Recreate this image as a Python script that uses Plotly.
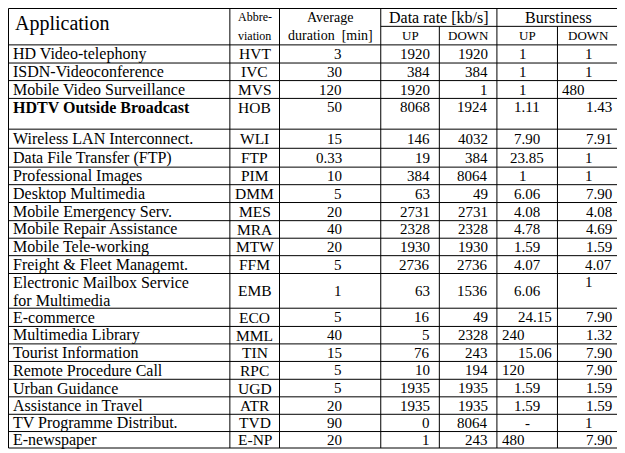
import plotly.graph_objects as go

# ---------------- data ----------------
applications = [
    "HD Video-telephony", "ISDN-Videoconference", "Mobile Video Surveillance",
    "HDTV Outside Broadcast", "Wireless LAN Interconnect.", "Data File Transfer (FTP)",
    "Professional Images", "Desktop Multimedia", "Mobile Emergency Serv.",
    "Mobile Repair Assistance", "Mobile Tele-working", "Freight & Fleet Managemt.",
    "Electronic Mailbox Service<br>for Multimedia", "E-commerce", "Multimedia Library",
    "Tourist Information", "Remote Procedure Call", "Urban Guidance",
    "Assistance in Travel", "TV Programme Distribut.", "E-newspaper",
]
abbreviations = ["HVT", "IVC", "MVS", "HOB", "WLI", "FTP", "PIM", "DMM", "MES", "MRA", "MTW",
                 "FFM", "EMB", "ECO", "MML", "TIN", "RPC", "UGD", "ATR", "TVD", "E-NP"]
durations = ["3", "30", "120", "50", "15", "0.33", "10", "5", "20", "40", "20", "5", "1", "5",
             "40", "15", "5", "5", "20", "90", "20"]
rate_up = [1920, 384, 1920, 8068, 146, 19, 384, 63, 2731, 2328, 1930, 2736, 63, 16, 5, 76, 10,
           1935, 1935, 0, 1]
rate_down = [1920, 384, 1, 1924, 4032, 384, 8064, 49, 2731, 2328, 1930, 2736, 1536, 49, 2328,
             243, 194, 1935, 1935, 8064, 243]
burst_up = ["1", "1", "1", "1.11", "7.90", "23.85", "1", "6.06", "4.08", "4.78", "1.59", "4.07",
            "6.06", "24.15", "240", "15.06", "120", "1.59", "1.59", "-", "480"]
burst_down = ["1", "1", "480", "1.43", "7.91", "1", "1", "7.90", "4.08", "4.69", "1.59", "4.07",
              "1", "7.90", "1.32", "7.90", "7.90", "1.59", "1.59", "1", "7.90"]

header_main = ["Application", "Abbre-<br>viation", "Average<br>duration  [min]"]
header_groups = ["Data rate [kb/s]", "Burstiness"]
header_sub = ["UP", "DOWN", "UP", "DOWN"]

# ---------------- layout / style ----------------
W, H = 625, 453
PAGE_MARGIN = 8                     # default body margin of the page
FIG_W, FIG_H = W - PAGE_MARGIN, H - PAGE_MARGIN
FONT = "Liberation Serif"
COL_EDGES = [4, 227, 277, 379, 438, 496, 557, 620]
HEADER_TOP, HEADER_SPLIT, HEADER_BOTTOM = 5, 23, 41.7
ROW_HEIGHTS = [18.3, 17.7, 18, 31, 19.3, 19, 17.7, 18, 18.3, 17.7, 17.6, 18, 35,
               18.4, 17.6, 17.7, 18, 17.7, 17.6, 17.4, 16.6]
LINE_H = 18
TEXT_DY = 0.0
BOLD_ROWS = {3}
TOP_ROWS = {3}
APP_SIZE, ABBR_SIZE, NUM_SIZE = 16, 15.5, 15
BURST_UP_ALIGN = ["d", "d", "d", "c", "c", "c", "d", "c", "c", "c", "c", "c", "c", "r", "l",
                  "r", "l", "c", "c", "c", "l"]
BURST_DOWN_ALIGN = ["c", "c", "l", "r", "r", "c", "c", "r", "r", "r", "r", "r", "t", "r", "r",
                    "r", "r", "r", "r", "c", "r"]

row_tops = [HEADER_BOTTOM]
for h in ROW_HEIGHTS:
    row_tops.append(row_tops[-1] + h)
TABLE_BOTTOM = row_tops[-1]

# map table extent (reference pixels) onto the visible part of the page
PX0, PX1 = 8.5, 620.0
PY0, PY1 = 8.5, 448.0
sx = (PX1 - PX0) / (COL_EDGES[-1] - COL_EDGES[0])
sy = (PY1 - PY0) / (TABLE_BOTTOM - HEADER_TOP)
x_range = [COL_EDGES[0] - (PX0 - PAGE_MARGIN) / sx,
           COL_EDGES[0] + (FIG_W - (PX0 - PAGE_MARGIN)) / sx]
y_range = [HEADER_TOP + (FIG_H - (PY0 - PAGE_MARGIN)) / sy,
           HEADER_TOP - (PY0 - PAGE_MARGIN) / sy]

fig = go.Figure()
annotations = []
shapes = []


def line(x0, y0, x1, y1, w=1):
    shapes.append(dict(type="line", xref="x", yref="y", x0=x0, y0=y0, x1=x1, y1=y1,
                       line=dict(color="black", width=w)))


def text(x, y, s, anchor, size, bold=False):
    if bold:
        s = "<b>" + s + "</b>"
    annotations.append(dict(x=x, y=y, xref="x", yref="y", text=s, showarrow=False,
                            xanchor=anchor, yanchor="middle",
                            font=dict(family=FONT, size=size, color="black")))


def cell(col, row, s, mode, size, pad=5, valign=None, bold=False):
    left, right = COL_EDGES[col], COL_EDGES[col + 1]
    top = row_tops[row]
    height = ROW_HEIGHTS[row]
    lines = s.split("<br>")
    if valign is None:
        valign = "t" if (row in TOP_ROWS or len(lines) > 1) else "m"
    for i, ln in enumerate(lines):
        if valign == "t":
            y = top + (i + 0.5) * LINE_H
        else:
            y = top + height / 2
        y += TEXT_DY
        if mode == "l":
            text(left + pad, y, ln, "left", size, bold)
        elif mode == "r":
            text(right - pad, y, ln, "right", size, bold)
        elif mode == "d":
            text(left + 20, y, ln, "left", size, bold)
        else:
            text((left + right) / 2, y, ln, "center", size, bold)


# header
text(COL_EDGES[0] + 5, (HEADER_TOP + HEADER_BOTTOM) / 2 - 3, header_main[0], "left", 20)
for c in (1, 2):
    parts = header_main[c].split("<br>")
    cx = (COL_EDGES[c] + COL_EDGES[c + 1]) / 2
    size = 12 if c == 1 else 14
    text(cx, (HEADER_TOP + HEADER_SPLIT) / 2, parts[0], "center", size)
    text(cx, (HEADER_SPLIT + HEADER_BOTTOM) / 2, parts[1], "center", size)
for g, name in enumerate(header_groups):
    c0 = 3 + 2 * g
    cx = (COL_EDGES[c0] + COL_EDGES[c0 + 2]) / 2
    text(cx, (HEADER_TOP + HEADER_SPLIT) / 2, name, "center", 16)
for k, name in enumerate(header_sub):
    c = 3 + k
    cx = (COL_EDGES[c] + COL_EDGES[c + 1]) / 2
    text(cx, (HEADER_SPLIT + HEADER_BOTTOM) / 2, name, "center", 13)

# body
for r in range(len(applications)):
    va = None if r in TOP_ROWS else "m"
    cell(0, r, applications[r], "l", APP_SIZE, pad=3, bold=r in BOLD_ROWS)
    cell(1, r, abbreviations[r], "c", ABBR_SIZE, valign=va)
    cell(2, r, durations[r], "r", NUM_SIZE, pad=37, valign=va)
    cell(3, r, str(rate_up[r]), "r", NUM_SIZE, pad=7, valign=va)
    cell(4, r, str(rate_down[r]), "r", NUM_SIZE, pad=7, valign=va)
    cell(5, r, burst_up[r], BURST_UP_ALIGN[r], NUM_SIZE, pad=3, valign=va)
    mode = BURST_DOWN_ALIGN[r]
    if mode == "t":
        cell(6, r, burst_down[r], "c", NUM_SIZE, valign="t")
    else:
        cell(6, r, burst_down[r], mode, NUM_SIZE, pad=6 if mode == "r" else 3, valign=va)

# grid lines
line(COL_EDGES[0], HEADER_TOP, COL_EDGES[-1], HEADER_TOP)
line(COL_EDGES[3], HEADER_SPLIT, COL_EDGES[-1], HEADER_SPLIT)
for y in row_tops:
    line(COL_EDGES[0], y, COL_EDGES[-1], y)
for i, x in enumerate(COL_EDGES):
    y0 = HEADER_SPLIT if i in (4, 6) else HEADER_TOP
    line(x, y0, x, TABLE_BOTTOM)

fig.update_layout(
    width=FIG_W, height=FIG_H, margin=dict(l=0, r=0, t=0, b=0),
    paper_bgcolor="white", plot_bgcolor="white",
    xaxis=dict(range=x_range, visible=False, fixedrange=True),
    yaxis=dict(range=y_range, visible=False, fixedrange=True),
    annotations=annotations, shapes=shapes, showlegend=False,
)
fig.write_html("out.html")
